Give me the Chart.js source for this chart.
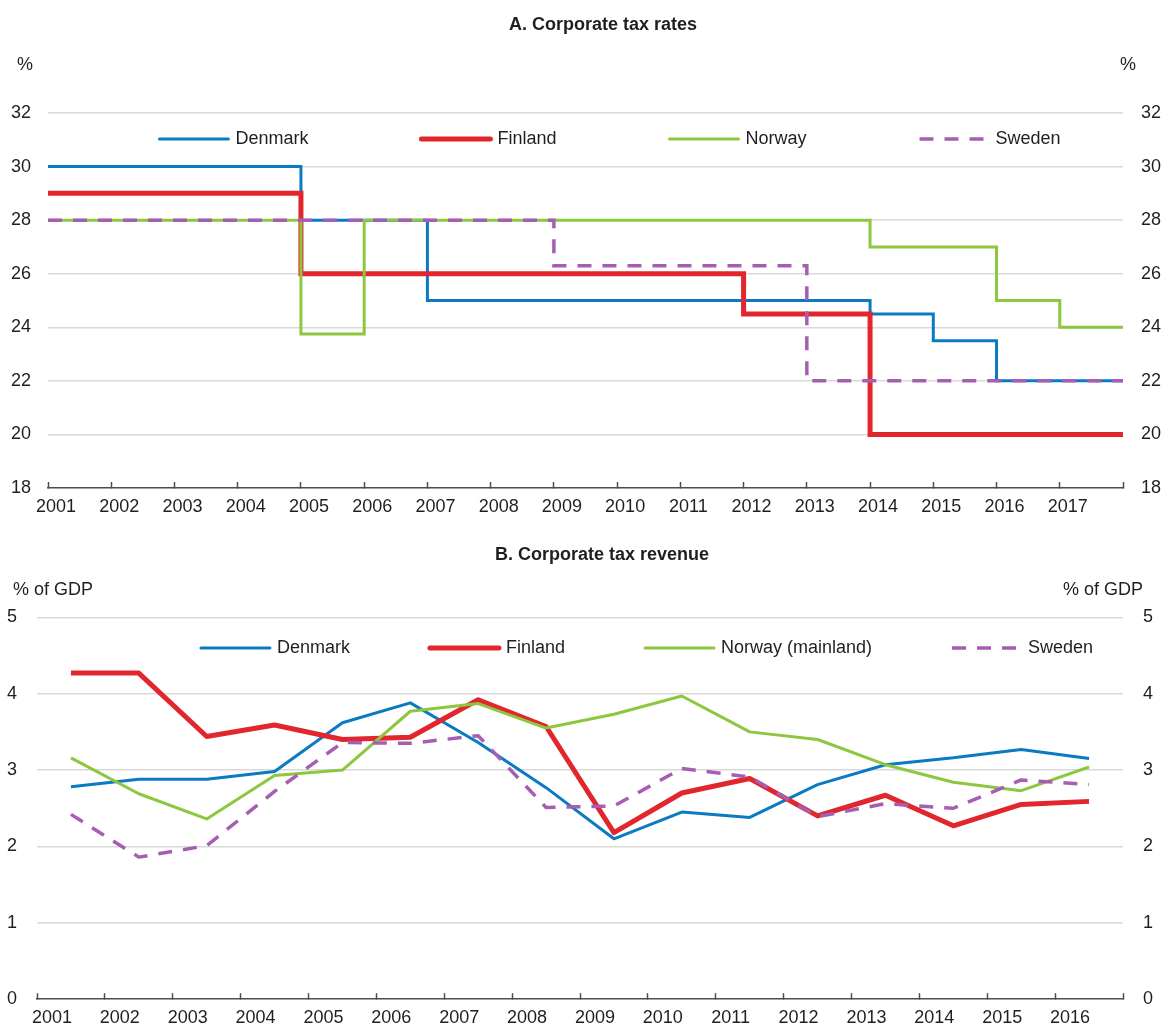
<!DOCTYPE html>
<html>
<head>
<meta charset="utf-8">
<title>Corporate tax rates and revenue</title>
<script src="https://cdn.jsdelivr.net/npm/chart.js@4.4.1/dist/chart.umd.min.js"></script>
<style>
  html, body { margin: 0; padding: 0; background: #fff; }
  canvas { display: block; }
</style>
</head>
<body>
<canvas id="ratesChart" width="1166" height="540"></canvas>
<canvas id="revenueChart" width="1166" height="490"></canvas>
<script>
// Panel A: statutory rate in force from each year until the next
const rateYears = [2001, 2002, 2003, 2004, 2005, 2006, 2007, 2008, 2009, 2010, 2011, 2012, 2013, 2014, 2015, 2016, 2017]
const rateDenmark = [30, 30, 30, 30, 28, 28, 25, 25, 25, 25, 25, 25, 25, 24.5, 23.5, 22, 22]
const rateFinland = [29, 29, 29, 29, 26, 26, 26, 26, 26, 26, 26, 24.5, 24.5, 20, 20, 20, 20]
const rateNorway = [28, 28, 28, 28, 23.75, 28, 28, 28, 28, 28, 28, 28, 28, 27, 27, 25, 24]
const rateSweden = [28, 28, 28, 28, 28, 28, 28, 28, 26.3, 26.3, 26.3, 26.3, 22, 22, 22, 22, 22]
const rateTicks = { min: 18, max: 32, step: 2 }

// Panel B: corporate tax revenue, % of GDP
const revenueYears = ['2001', '2002', '2003', '2004', '2005', '2006', '2007', '2008', '2009', '2010', '2011', '2012', '2013', '2014', '2015', '2016']
const revDenmark = [2.78, 2.88, 2.88, 2.98, 3.62, 3.88, 3.36, 2.77, 2.10, 2.45, 2.38, 2.81, 3.07, 3.16, 3.27, 3.15]
const revFinland = [4.27, 4.27, 3.44, 3.59, 3.40, 3.43, 3.92, 3.57, 2.18, 2.70, 2.89, 2.40, 2.67, 2.27, 2.55, 2.59]
const revNorway = [3.16, 2.69, 2.36, 2.93, 3.00, 3.77, 3.87, 3.55, 3.73, 3.97, 3.50, 3.40, 3.07, 2.84, 2.73, 3.04]
const revSweden = [2.42, 1.86, 2.01, 2.72, 3.36, 3.35, 3.45, 2.51, 2.53, 3.02, 2.91, 2.39, 2.56, 2.50, 2.87, 2.81]
const revenueTicks = { min: 0, max: 5, step: 1 }

const FONT = '"Liberation Sans Narrow", "Arial Narrow", "Liberation Sans", Arial, sans-serif'
const SIZE = 18
const TEXT = '#1f1f1f'
const GRID = '#d9d9d9'
const AXIS = '#4d4d4d'
const BLUE = '#0a7bc2'
const RED = '#e2262d'
const GREEN = '#8dc63f'
const PURPLE = '#a55eb1'

Chart.defaults.font.family = FONT
Chart.defaults.font.size = SIZE
Chart.defaults.color = TEXT

// legend drawn inside the plot, one row, like the original
const lineLegend = {
  id: 'lineLegend',
  beforeDatasetsDraw(chart, args, opts) {
    const ctx = chart.ctx
    const items = chart.data.datasets
    ctx.save()
    ctx.font = `${SIZE}px ${FONT}`
    const widths = items.map(d => opts.line + opts.gap + ctx.measureText(d.label).width)
    const total = widths.reduce((a, b) => a + b, 0) + opts.spacing * (items.length - 1)
    let x = opts.x - total / 2
    items.forEach((d, i) => {
      ctx.beginPath()
      ctx.strokeStyle = d.borderColor
      ctx.lineWidth = d.borderWidth
      ctx.lineCap = d.borderDash.length ? 'butt' : 'round'
      ctx.setLineDash(d.borderDash)
      ctx.moveTo(x, opts.y)
      ctx.lineTo(x + opts.line, opts.y)
      ctx.stroke()
      ctx.setLineDash([])
      ctx.fillStyle = TEXT
      ctx.textAlign = 'left'
      ctx.textBaseline = 'middle'
      ctx.fillText(d.label, x + opts.line + opts.gap, opts.y)
      x += widths[i] + opts.spacing
    })
    ctx.restore()
  }
}

// panel title and unit labels
const captions = {
  id: 'captions',
  afterDraw(chart, args, opts) {
    const ctx = chart.ctx
    ctx.save()
    ctx.fillStyle = TEXT
    ctx.textAlign = 'center'
    ctx.textBaseline = 'middle'
    opts.items.forEach(t => {
      ctx.font = `${t.bold ? 'bold ' : ''}${SIZE}px ${FONT}`
      ctx.fillText(t.text, t.x, t.y)
    })
    ctx.restore()
  }
}

function series(label, data, color, width, dash, order) {
  return {
    label, data, order,
    borderColor: color,
    backgroundColor: color,
    borderWidth: width,
    borderDash: dash,
    pointRadius: 0,
    fill: false
  }
}

// hold each year's rate until the following year
function steps(values) {
  const pts = rateYears.map((yr, i) => ({ x: yr, y: values[i] }))
  pts.push({ x: rateYears[rateYears.length - 1] + 1, y: values[values.length - 1] })
  return pts
}

function yAxes(t, leftWidth, leftPad, rightPad) {
  return {
    y: {
      min: t.min, max: t.max,
      afterFit: s => { s.width = leftWidth },
      ticks: { stepSize: t.step, padding: leftPad },
      grid: { color: c => (c.tick && c.tick.value === t.min ? 'rgba(0,0,0,0)' : GRID), lineWidth: 1.5, drawTicks: false },
      border: { display: false }
    },
    y2: {
      position: 'right',
      min: t.min, max: t.max,
      afterFit: s => { s.width = 43 },
      ticks: { stepSize: t.step, padding: rightPad },
      grid: { display: false, drawTicks: false },
      border: { display: false }
    }
  }
}

const DASH = [14, 11]

new Chart(document.getElementById('ratesChart'), {
  type: 'line',
  data: {
    datasets: [
      series('Denmark', steps(rateDenmark), BLUE, 3, [], 3),
      series('Finland', steps(rateFinland), RED, 5, [], 2),
      series('Norway', steps(rateNorway), GREEN, 3, [], 1),
      series('Sweden', steps(rateSweden), PURPLE, 3.5, DASH, 0)
    ]
  },
  options: {
    responsive: false,
    animation: false,
    layout: { padding: { top: 113, left: 0, right: 0, bottom: 0 } },
    elements: { line: { stepped: 'before', borderJoinStyle: 'miter', tension: 0 } },
    plugins: {
      legend: { display: false },
      tooltip: { enabled: false },
      lineLegend: { x: 610, y: 139, line: 69, gap: 7, spacing: 113 },
      captions: {
        items: [
          { text: 'A. Corporate tax rates', x: 603, y: 25, bold: true },
          { text: '%', x: 25, y: 65 },
          { text: '%', x: 1128, y: 65 }
        ]
      }
    },
    scales: {
      x: {
        type: 'linear',
        min: rateYears[0],
        max: rateYears[rateYears.length - 1] + 1,
        afterFit: s => { s.height = 52 },
        ticks: {
          stepSize: 1, autoSkip: false, maxRotation: 0, labelOffset: 8, padding: 14,
          callback: v => (rateYears.includes(v) ? String(v) : '')
        },
        grid: { drawOnChartArea: false, tickLength: -6, tickColor: AXIS, tickWidth: 1.5 },
        border: { color: AXIS, width: 1.5 }
      },
      ...yAxes(rateTicks, 48, 17, 18)
    }
  },
  plugins: [lineLegend, captions]
})

new Chart(document.getElementById('revenueChart'), {
  type: 'line',
  data: {
    labels: revenueYears,
    datasets: [
      series('Denmark', revDenmark, BLUE, 3, [], 3),
      series('Finland', revFinland, RED, 5, [], 2),
      series('Norway (mainland)', revNorway, GREEN, 3, [], 1),
      series('Sweden', revSweden, PURPLE, 3.5, DASH, 0)
    ]
  },
  options: {
    responsive: false,
    animation: false,
    layout: { padding: { top: 77.3, left: 0, right: 0, bottom: 0 } },
    elements: { line: { borderJoinStyle: 'round', tension: 0 } },
    plugins: {
      legend: { display: false },
      tooltip: { enabled: false },
      lineLegend: { x: 647, y: 108, line: 69, gap: 7, spacing: 80 },
      captions: {
        items: [
          { text: 'B. Corporate tax revenue', x: 602, y: 15, bold: true },
          { text: '% of GDP', x: 53, y: 50 },
          { text: '% of GDP', x: 1103, y: 50 }
        ]
      }
    },
    scales: {
      x: {
        offset: true,
        afterFit: s => { s.height = 29.3 },
        ticks: { autoSkip: false, maxRotation: 0, labelOffset: -19, padding: 14 },
        grid: { offset: true, drawOnChartArea: false, tickLength: -6, tickColor: AXIS, tickWidth: 1.5 },
        border: { color: AXIS, width: 1.5 }
      },
      ...yAxes(revenueTicks, 37, 20, 20)
    }
  },
  plugins: [lineLegend, captions]
})
</script>
</body>
</html>
